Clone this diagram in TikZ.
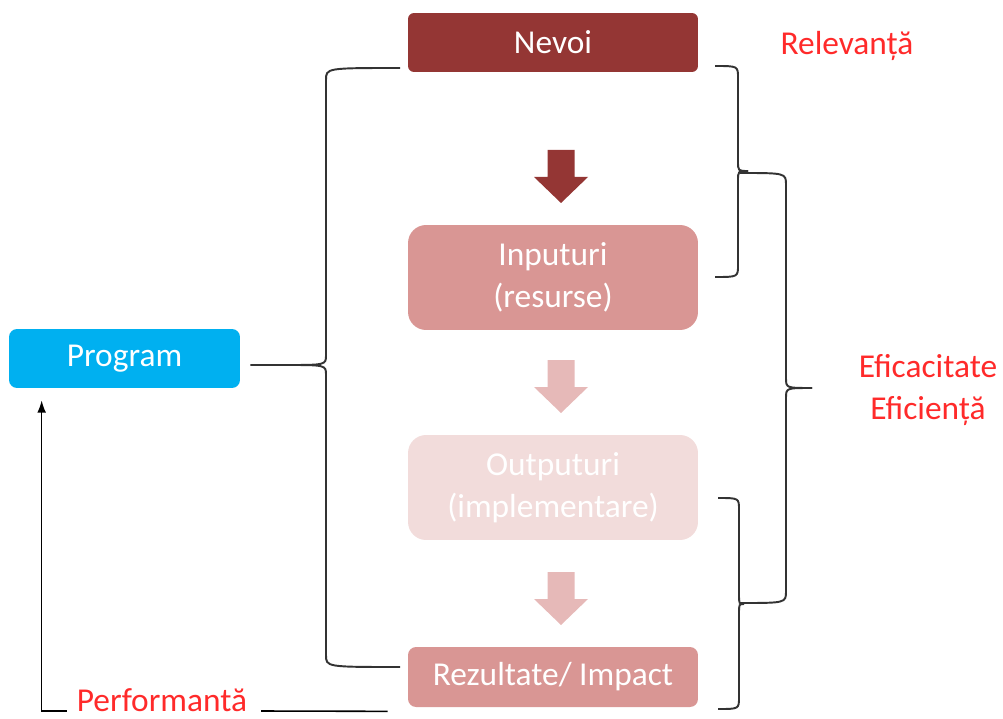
\documentclass[tikz,border=0pt]{standalone}
\usepackage{fontspec}
\setmainfont{Carlito}
\usetikzlibrary{arrows.meta,calc}
\definecolor{darkred}{HTML}{943634}
\definecolor{midred}{HTML}{D99694}
\definecolor{palered}{HTML}{F2DCDB}
\definecolor{arrowred}{HTML}{E6B9B8}
\definecolor{progblue}{HTML}{00B0F0}
\definecolor{labelred}{HTML}{FF2A2A}
\tikzset{
  stage/.style={minimum width=5.8cm, inner sep=0pt, text=white, align=center,
    font=\fontsize{19}{24}\selectfont},
  label/.style={text=labelred, align=center, inner sep=1pt, font=\fontsize{19}{24}\selectfont},
  bracket/.style={line width=1.1pt, black!80},
}
% block arrow: centre x, top y, colour
\newcommand{\blockarrow}[3]{
  \fill [#3] (#1-13.5,#2) -- (#1+13.5,#2) -- (#1+13.5,#2+27) -- (#1+27,#2+27)
    -- (#1,#2+53) -- (#1-27,#2+27) -- (#1-13.5,#2+27) -- cycle;
}
% curly bracket: open end x, spine x, tip x, top y, tip y, bottom y
\newcommand{\curlybracket}[6]{
  \draw [bracket] (#1,#4) .. controls (#2,#4) .. (#2,#4+12) -- (#2,#5-10)
    .. controls (#2,#5) .. (#3,#5);
  \draw [bracket] (#3,#5) .. controls (#2,#5) .. (#2,#5+10) -- (#2,#6-12)
    .. controls (#2,#6) .. (#1,#6);
}

\begin{document}
\begin{tikzpicture}[x=0.02cm, y=-0.02cm]
\useasboundingbox (0,0) rectangle (1003,719);

\node [stage, fill=darkred, rounded corners=0.12cm, minimum height=1.18cm] (nevoi) at (553,42.5) {Nevoi};
\node [stage, fill=midred, rounded corners=0.36cm, minimum height=2.1cm] (inputs) at (553,277.5) {Inputuri\\(resurse)};
\node [stage, fill=palered, rounded corners=0.36cm, minimum height=2.1cm] (outputs) at (553,487.5) {Outputuri\\(implementare)};
\node [stage, fill=midred, rounded corners=0.16cm, minimum height=1.2cm] (impact) at (553,677) {Rezultate/ Impact};
\node [stage, fill=progblue, rounded corners=0.16cm, minimum width=4.62cm, minimum height=1.18cm] (prog) at (124.5,358.5) {Program};

\blockarrow{561}{150}{darkred}
\blockarrow{561}{360}{arrowred}
\blockarrow{561}{572}{arrowred}

\node [label] (relev) at (847,46) {Relevanță};
\node [label] (efic) at (928,390) {Eficacitate\\Eficiență};
\node [label] (perf) at (162,700) {Performantă};

% brackets
\curlybracket{400}{326}{285}{68}{365}{667}
\draw [bracket] ([xshift=0.2cm,yshift=-0.13cm]prog.east) -- (285,365);
\curlybracket{715}{738}{748}{66}{171}{277}
\curlybracket{740}{786}{812}{173}{388}{603}
\curlybracket{718}{739}{744}{498}{604}{709}

\draw [line width=0.9pt] ([xshift=0.24cm,yshift=-0.22cm]perf.east) -- ([xshift=-0.4cm,yshift=-0.08cm]impact.south west);
\draw [line width=0.9pt, -{Latex[length=7pt,width=5pt]}] ([xshift=-0.16cm,yshift=-0.22cm]perf.west) -| ($(prog.south west)+(33,12)$);
\end{tikzpicture}
\end{document}
